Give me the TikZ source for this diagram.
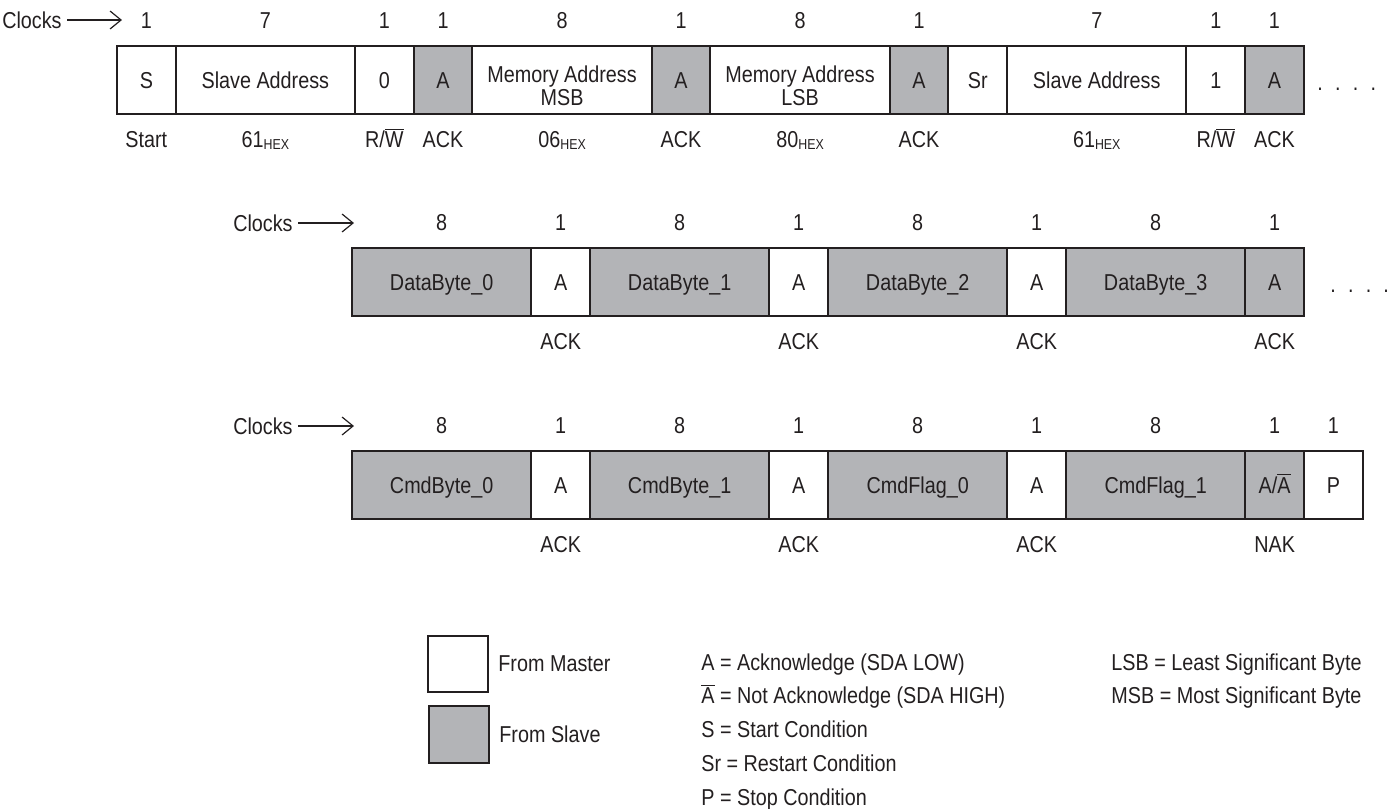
\documentclass[tikz,border=0pt]{standalone}
\usepackage{fontspec}
\setmainfont{Liberation Sans}[FakeStretch=0.86]
\usetikzlibrary{arrows.meta,positioning}
\definecolor{SlaveGray}{RGB}{179,180,183}
\definecolor{InkDark}{RGB}{35,31,32}
\newcommand{\hexs}{\raisebox{-1pt}{\fontsize{7.2}{7.2}\selectfont HEX}}
\newcommand{\ovl}[1]{$\overline{\mbox{#1}}$}
\tikzset{
  cell/.style={draw, line width=1pt, inner sep=0pt, outer sep=0pt, minimum height=34pt},
  bit/.style={cell, minimum width=29.35pt, text height=8.2pt, text depth=0pt},
  byte/.style={cell, minimum width=89.65pt, text height=8.2pt, text depth=0pt},
  slv/.style={fill=SlaveGray},
  tag/.style={inner sep=0pt, text height=8.2pt, text depth=0pt, label distance=8.4pt},
  clk/.style={label={[tag]above:#1}},
  note/.style={label={[tag]below:#1}},
  keyline/.style={anchor=west, inner sep=0pt, text height=8.2pt, text depth=0pt},
}
\begin{document}
\begin{tikzpicture}[x=0.5pt,y=-0.5pt,color=InkDark,>={Straight Barb[length=5.5pt,width=9pt]},
    font=\fontsize{11.5}{11.5}\selectfont]
  \useasboundingbox (0,0) rectangle (1399,809);
  % write: slave address, memory address, restart
  \node[anchor=east,inner sep=2.5pt] (clocks1) at (67,20) {Clocks};
  \coordinate (clocks1e) at (122,20);
  \draw[->,line width=0.6pt] (clocks1) -- (clocks1e);
  \node[bit,clk=1,note=Start,anchor=north west] (s) at (117,46) {S};
  \node[byte,clk=7,note=61\hexs,right=0pt of s] (saddr) {Slave Address};
  \node[bit,clk=1,note=R/\ovl{W},right=0pt of saddr] (rw0) {0};
  \node[bit,slv,clk=1,note=ACK,right=0pt of rw0] (ack1) {A};
  \node[cell,minimum width=89.65pt,clk=8,note=06\hexs,right=0pt of ack1] (msb) {};
  \node[align=center,inner sep=0pt] (msbt) at ([yshift=-3pt]msb.center) {Memory Address\\MSB};
  \node[bit,slv,clk=1,note=ACK,right=0pt of msb] (ack2) {A};
  \node[cell,minimum width=89.65pt,clk=8,note=80\hexs,right=0pt of ack2] (lsb) {};
  \node[align=center,inner sep=0pt] (lsbt) at ([yshift=-3pt]lsb.center) {Memory Address\\LSB};
  \node[bit,slv,clk=1,note=ACK,right=0pt of lsb] (ack3) {A};
  \node[bit,right=0pt of ack3] (sr) {Sr};
  \node[byte,clk=7,note=61\hexs,right=0pt of sr] (saddr2) {Slave Address};
  \node[bit,clk=1,note=R/\ovl{W},right=0pt of saddr2] (rw1) {1};
  \node[bit,slv,clk=1,note=ACK,right=0pt of rw1] (ack4) {A};
  \node[anchor=base west,inner sep=0pt] (more1) at (1317,90) {.\hspace{6.1pt}.\hspace{6.1pt}.\hspace{6.1pt}.};

  % read: data bytes
  \node[anchor=east,inner sep=2.5pt] (clocks2) at (298,223) {Clocks};
  \coordinate (clocks2e) at (354,223);
  \draw[->,line width=0.6pt] (clocks2) -- (clocks2e);
  \foreach \i/\f in {0/white,1/white,2/white,3/SlaveGray} {
    \node[byte,slv,clk=8,anchor=north west] (data\i) at (352+238*\i,248) {DataByte\_\i};
    \node[bit,fill=\f,clk=1,note=ACK,right=0pt of data\i] (dack\i) {A};
  }
  \node[anchor=base west,inner sep=0pt] (more2) at (1330,292) {.\hspace{6.1pt}.\hspace{6.1pt}.\hspace{6.1pt}.};

  % read: command bytes and flags
  \node[anchor=east,inner sep=2.5pt] (clocks3) at (298,426) {Clocks};
  \coordinate (clocks3e) at (354,426);
  \draw[->,line width=0.6pt] (clocks3) -- (clocks3e);
  \foreach \i/\t in {0/CmdByte\_0,1/CmdByte\_1,2/CmdFlag\_0} {
    \node[byte,slv,clk=8,anchor=north west] (cmd\i) at (352+238*\i,451) {\t};
    \node[bit,clk=1,note=ACK,right=0pt of cmd\i] (cack\i) {A};
  }
  \node[byte,slv,clk=8,right=0pt of cack2] (cmd3) {CmdFlag\_1};
  \node[bit,slv,clk=1,note=NAK,right=0pt of cmd3] (nak) {A/\ovl{A}};
  \node[bit,clk=1,right=0pt of nak] (p) {P};

  % legend
  \node[cell,minimum width=30pt,minimum height=28pt] (master) at (458,664) {};
  \node[right=5pt of master,inner sep=0pt] (masterl) {From Master};
  \node[cell,slv,minimum width=30pt,minimum height=28.5pt] (slave) at (459,734.5) {};
  \node[right=5pt of slave,inner sep=0pt] (slavel) {From Slave};
  \foreach \t [count=\k] in {A = Acknowledge (SDA LOW),\ovl{A} = Not Acknowledge (SDA HIGH),
      S = Start Condition,Sr = Restart Condition,P = Stop Condition}
    \node[keyline] (key\k) at (701,628.25+33.75*\k) {\t};
  \node[keyline] (lsbkey) at (1111,662) {LSB = Least Significant Byte};
  \node[keyline] (msbkey) at (1111,695.75) {MSB = Most Significant Byte};
\end{tikzpicture}
\end{document}
